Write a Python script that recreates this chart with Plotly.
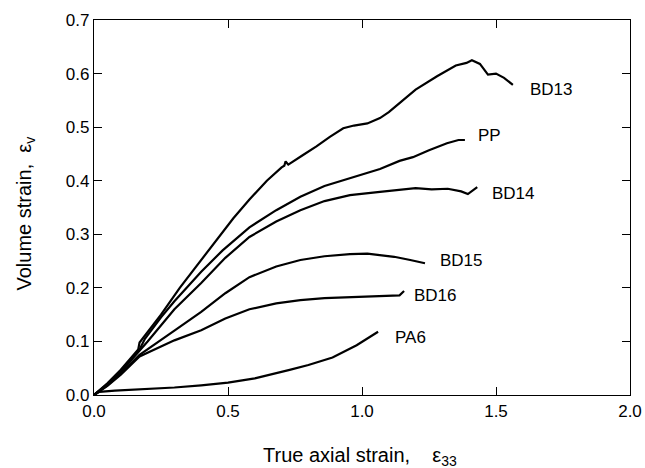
import plotly.graph_objects as go

# Data
bd13_x = [0.0, 0.05, 0.10, 0.15, 0.165, 0.17, 0.25, 0.32, 0.40, 0.46, 0.52, 0.58, 0.645, 0.70, 0.71, 0.715, 0.725, 0.78, 0.83, 0.88, 0.93, 0.97, 1.02, 1.067, 1.10, 1.14, 1.20, 1.28, 1.35, 1.39, 1.41, 1.44, 1.46, 1.47, 1.50, 1.53, 1.563]
bd13_y = [0.0, 0.022, 0.047, 0.077, 0.085, 0.098, 0.150, 0.200, 0.252, 0.290, 0.330, 0.365, 0.400, 0.425, 0.428, 0.436, 0.430, 0.448, 0.464, 0.482, 0.498, 0.503, 0.507, 0.517, 0.528, 0.545, 0.570, 0.595, 0.615, 0.620, 0.625, 0.618, 0.605, 0.598, 0.600, 0.592, 0.579]

pp_x = [0.0, 0.05, 0.10, 0.17, 0.19, 0.25, 0.30, 0.40, 0.48, 0.58, 0.68, 0.77, 0.86, 0.955, 1.067, 1.14, 1.19, 1.25, 1.317, 1.36, 1.384]
pp_y = [0.0, 0.020, 0.045, 0.085, 0.105, 0.145, 0.175, 0.230, 0.270, 0.313, 0.345, 0.370, 0.390, 0.405, 0.422, 0.437, 0.444, 0.457, 0.470, 0.476, 0.476]

bd14_x = [0.0, 0.05, 0.10, 0.17, 0.20, 0.30, 0.40, 0.49, 0.58, 0.68, 0.77, 0.86, 0.955, 1.067, 1.14, 1.20, 1.26, 1.32, 1.37, 1.395, 1.43]
bd14_y = [0.0, 0.020, 0.043, 0.082, 0.100, 0.160, 0.209, 0.256, 0.295, 0.324, 0.345, 0.362, 0.373, 0.379, 0.383, 0.386, 0.384, 0.385, 0.380, 0.375, 0.388]

bd15_x = [0.0, 0.05, 0.10, 0.17, 0.30, 0.40, 0.49, 0.58, 0.68, 0.77, 0.86, 0.955, 1.02, 1.12, 1.18, 1.235]
bd15_y = [0.0, 0.018, 0.040, 0.075, 0.120, 0.155, 0.190, 0.220, 0.240, 0.252, 0.259, 0.263, 0.264, 0.258, 0.252, 0.246]

bd16_x = [0.0, 0.05, 0.10, 0.17, 0.30, 0.40, 0.49, 0.58, 0.68, 0.77, 0.86, 0.955, 1.05, 1.14, 1.157]
bd16_y = [0.0, 0.017, 0.038, 0.072, 0.102, 0.121, 0.143, 0.160, 0.171, 0.177, 0.181, 0.183, 0.185, 0.186, 0.194]

pa6_x = [0.0, 0.02, 0.078, 0.20, 0.30, 0.40, 0.50, 0.60, 0.68, 0.73, 0.80, 0.89, 0.98, 1.06]
pa6_y = [0.0, 0.006, 0.008, 0.011, 0.014, 0.018, 0.023, 0.031, 0.040, 0.047, 0.056, 0.070, 0.093, 0.118]

labels = ["BD13", "PP", "BD14", "BD15", "BD16", "PA6"]
label_x = [1.62, 1.425, 1.478, 1.284, 1.187, 1.115]
label_y = [0.571, 0.485, 0.377, 0.252, 0.185, 0.108]

x_ticks = [0.0, 0.5, 1.0, 1.5, 2.0]
y_ticks = [0.0, 0.1, 0.2, 0.3, 0.4, 0.5, 0.6, 0.7]

x_title = "True axial strain,\u00a0\u00a0\u00a0\u00a0ε<sub>33</sub>"
y_title = "Volume strain,\u00a0\u00a0ε<sub>v</sub>"

series = [(bd13_x, bd13_y), (pp_x, pp_y), (bd14_x, bd14_y),
          (bd15_x, bd15_y), (bd16_x, bd16_y), (pa6_x, pa6_y)]

FONT = "Liberation Sans, Arial, sans-serif"

fig = go.Figure()
for name, (xs, ys) in zip(labels, series):
    fig.add_trace(go.Scatter(x=xs, y=ys, mode="lines", name=name,
                             line=dict(color="black", width=2.2)))

for t, lx, ly in zip(labels, label_x, label_y):
    fig.add_annotation(x=lx, y=ly, text=t, showarrow=False, xanchor="left",
                       yanchor="middle", font=dict(size=17, color="black", family=FONT))

# axis titles
fig.add_annotation(xref="paper", yref="paper", x=0.497, y=-0.165, text=x_title,
                   showarrow=False, xanchor="center", yanchor="middle",
                   font=dict(size=20, color="black", family=FONT))
fig.add_annotation(xref="paper", yref="paper", x=-0.128, y=0.485, text=y_title,
                   showarrow=False, xanchor="center", yanchor="middle", textangle=-90,
                   font=dict(size=20, color="black", family=FONT))

axis_common = dict(showgrid=False, zeroline=False, showline=True, linecolor="black",
                   linewidth=1.3, mirror="ticks", ticks="inside", ticklen=8,
                   tickcolor="black", tickwidth=1.3, automargin=False,
                   tickfont=dict(size=17, color="black", family=FONT))

fig.update_xaxes(range=[0, 2.0], tickvals=x_ticks,
                 ticktext=[f"{v:.1f}" for v in x_ticks], **axis_common)
fig.update_yaxes(range=[0, 0.7], tickvals=y_ticks,
                 ticktext=[f"{v:.1f}" for v in y_ticks], **axis_common)

fig.update_layout(width=645, height=468, showlegend=False,
                  plot_bgcolor="white", paper_bgcolor="white",
                  margin=dict(l=94, r=15, t=20, b=73),
                  font=dict(family=FONT, color="black"))

fig.write_html("out.html",
               config={"displayModeBar": False},
               post_script="document.body.style.margin='0px';"
                           "document.body.style.overflow='hidden';"
                           "document.documentElement.style.overflow='hidden';")
